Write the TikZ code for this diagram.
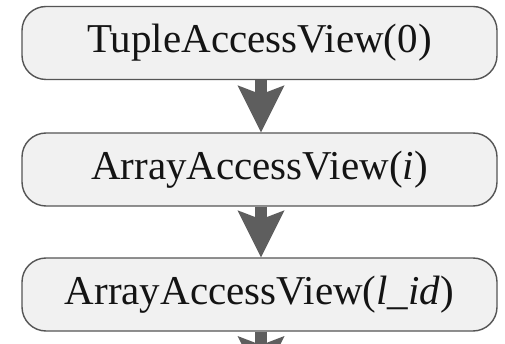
\documentclass[tikz,border=0pt]{standalone}
\usepackage{fontspec}
\setmainfont{Liberation Serif}
\usetikzlibrary{arrows.meta}
\definecolor{boxfill}{HTML}{F1F1F1}
\definecolor{boxline}{HTML}{555555}
\definecolor{flowgrey}{HTML}{5E5E5E}
\definecolor{labelink}{HTML}{141414}
\begin{document}
\begin{tikzpicture}[x=1pt,y=1pt,
  viewbox/.style={draw=boxline, fill=boxfill, line width=1.4pt,
    rounded corners=24pt, minimum width=475pt, minimum height=73pt,
    inner sep=0pt, text=labelink,
    font=\fontsize{41pt}{49pt}\selectfont},
  flow/.style={draw=flowgrey, line width=12pt,
    -{Stealth[length=47pt, width=47pt, inset=9pt, line width=0pt, fill=flowgrey]}}]
  % page frame
  \clip (0,0) rectangle (505,-344);
  \fill[white] (0,0) rectangle (505,-344);

  % the three access views
  \node[viewbox] (tuple) at (259.5,-43) {TupleAccessView(0)};
  \node[viewbox] (arri)  at (259.5,-169.5) {ArrayAccessView(\textit{i})};
  \node[viewbox] (arrl)  at (259.5,-294.5) {ArrayAccessView(\textit{l\_id})};
  \coordinate (next) at (261,-383);

  % flow between views
  \draw[flow] ([xshift=1.5pt]tuple.south) -- ([xshift=1.5pt]arri.north);
  \draw[flow] ([xshift=1.5pt]arri.south) -- ([xshift=1.5pt]arrl.north);
  \draw[flow] ([xshift=1.5pt]arrl.south) -- (next);
\end{tikzpicture}
\end{document}
